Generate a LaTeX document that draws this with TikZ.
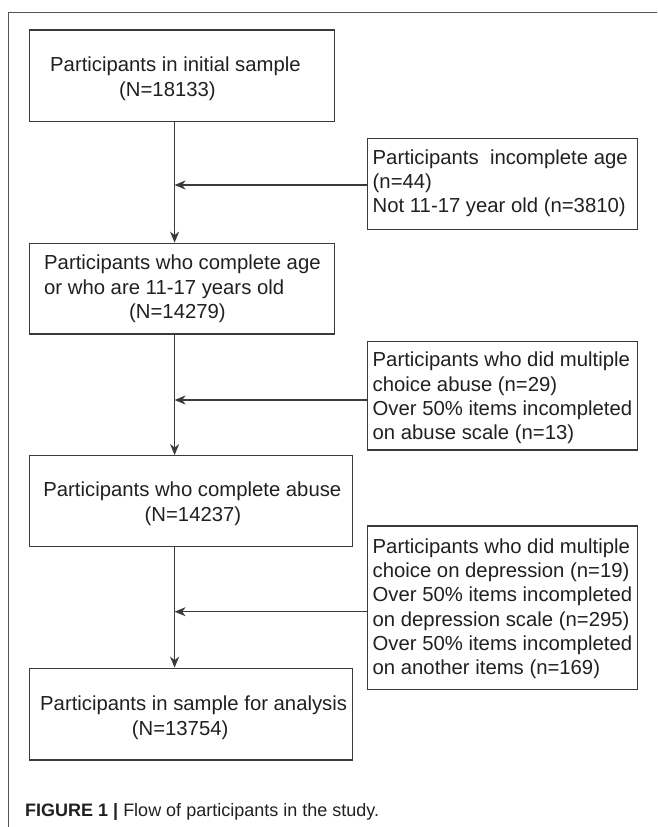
\documentclass[tikz,border=0pt]{standalone}
\usepackage{fontspec}
\setmainfont{Liberation Sans}
\usetikzlibrary{arrows.meta}
\definecolor{ink}{HTML}{231F20}
\definecolor{linec}{HTML}{3A3A3A}
\definecolor{framec}{HTML}{555555}
\begin{document}
\begin{tikzpicture}[x=1pt,y=-1pt,
  box/.style={draw=linec,line width=1.3pt,inner sep=0pt,rectangle},
  txt/.style={anchor=base west,inner sep=0pt,text=ink,font=\fontsize{20.3}{24.3}\selectfont},
  flow/.style={draw=linec,line width=1.3pt,-{Stealth[length=11pt,width=9pt,inset=3.5pt]}},
  capt/.style={anchor=base west,inner sep=0pt,text=ink,font=\fontsize{18}{21}\selectfont}]
\useasboundingbox (0,0) rectangle (657,827);
% frame
\draw[framec,line width=1pt] (8,827) -- (8,12) -- (657,12);
% main boxes
\node[box,minimum width=305pt,minimum height=91.7pt] (b1) at (181.8,75.9) {};
\node[box,minimum width=305pt,minimum height=90.7pt] (b2) at (181.8,288.65) {};
\node[box,minimum width=323.4pt,minimum height=91pt] (b3) at (191,501.2) {};
\node[box,minimum width=323.4pt,minimum height=91.7pt] (b4) at (191,714.15) {};
% side boxes
\node[box,minimum width=269.6pt,minimum height=91pt] (s1) at (502.5,183.8) {};
\node[box,minimum width=269.6pt,minimum height=108.3pt] (s2) at (502.5,395.85) {};
\node[box,minimum width=269.6pt,minimum height=163.3pt] (s3) at (502.5,607.65) {};
% junctions
\coordinate (j1) at (174.6,185);
\coordinate (j2) at (174.6,400);
\coordinate (j3) at (174.6,611.7);
% texts main
\node[txt] (t1a) at (50,71.7) {Participants in initial sample};
\node[txt] (t1b) at (119,96.7) {(N=18133)};
\node[txt] (t2a) at (44,269) {Participants who complete age};
\node[txt] (t2b) at (44,294) {or who are 11-17 years old};
\node[txt] (t2c) at (129,318.7) {(N=14279)};
\node[txt] (t3a) at (43.2,496) {Participants who complete abuse};
\node[txt] (t3b) at (144.5,521.3) {(N=14237)};
\node[txt] (t4a) at (40,710) {Participants in sample for analysis};
\node[txt] (t4b) at (131.7,735) {(N=13754)};
% texts side
\node[txt] (s1a) at (372.5,164.3) {Participants\ \ incomplete age};
\node[txt] (s1b) at (372.5,188.5) {(n=44)};
\node[txt] (s1c) at (372.5,212.7) {Not 11-17 year old (n=3810)};
\node[txt] (s2a) at (372.5,366.7) {Participants who did multiple};
\node[txt] (s2b) at (372.5,391) {choice abuse (n=29)};
\node[txt] (s2c) at (372.5,415.3) {Over 50\% items incompleted};
\node[txt] (s2d) at (372.5,439.7) {on abuse scale (n=13)};
\node[txt] (s3a) at (372.5,553.3) {Participants who did multiple};
\node[txt] (s3b) at (372.5,577.6) {choice on depression (n=19)};
\node[txt] (s3c) at (372.5,601.9) {Over 50\% items incompleted};
\node[txt] (s3d) at (372.5,626.2) {on depression scale (n=295)};
\node[txt] (s3e) at (372.5,650.5) {Over 50\% items incompleted};
\node[txt] (s3f) at (372.5,674.8) {on another items (n=169)};
% connectors
\draw[flow] (b1.south -| j1) -- (b2.north -| j1);
\draw[flow] (b2.south -| j2) -- (b3.north -| j2);
\draw[flow] (b3.south -| j3) -- (b4.north -| j3);
\draw[flow] (s1.west |- j1) -- (j1);
\draw[flow] (s2.west |- j2) -- (j2);
\draw[flow] (s3.west |- j3) -- (j3);
% caption
\node[capt] (cap) at (25,816) {\textbf{FIGURE 1 | }Flow of participants in the study.};
\end{tikzpicture}
\end{document}
